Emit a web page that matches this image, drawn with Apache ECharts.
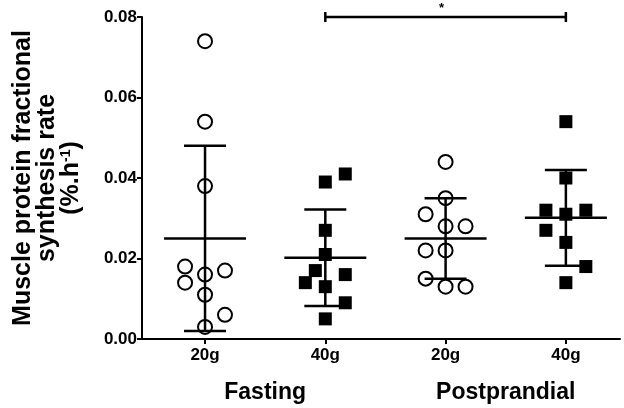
<!DOCTYPE html>
<html>
<head>
<meta charset="utf-8">
<script src="https://cdn.jsdelivr.net/npm/echarts@6/dist/echarts.min.js"></script>
<style>html,body{margin:0;padding:0;background:#fff}#c{width:624px;height:408px}</style>
</head>
<body>
<div id="c"></div>
<script>
// Categories / labels
var doseLabels = ['20g', '40g', '20g', '40g'];
var phaseLabels = ['Fasting', 'Postprandial'];
var yTicks = [0, 0.02, 0.04, 0.06, 0.08];

// Individual values [FSR, jitter column]
var fast20 = [[0.074,0],[0.054,0],[0.038,0],[0.018,-2],[0.017,2],[0.016,0],[0.014,-2],[0.011,0],[0.006,2],[0.003,0]];
var fast40 = [[0.039,0],[0.041,2],[0.027,0],[0.021,0],[0.017,-1],[0.014,-2],[0.016,2],[0.013,0],[0.009,2],[0.005,0]];
var post20 = [[0.044,0],[0.035,0],[0.031,-2],[0.028,0],[0.028,2],[0.022,-2],[0.022,0],[0.015,-2],[0.013,0],[0.013,2]];
var post40 = [[0.054,0],[0.040,0],[0.032,-2],[0.031,0],[0.032,2],[0.027,-2],[0.024,0],[0.018,2],[0.014,0]];

// Group means and SDs
var means = [0.025, 0.0202, 0.025, 0.0301];
var sds = [0.023, 0.012, 0.010, 0.0119];

// Significance comparison: from group, to group, level
var sig = [[1, 3, 0.08, '*']];

var JIT = 0.083;
function pts(arr, g) { return arr.map(function (d) { return [g + d[1] * JIT, d[0]]; }); }

var FONT = '"Liberation Sans", Arial, sans-serif';
var chart = echarts.init(document.getElementById('c'), null, { renderer: 'canvas' });

var errData = means.map(function (m, i) { return [i, m, sds[i]]; });

chart.setOption({
  animation: false,
  backgroundColor: '#fff',
  grid: { left: 142, right: 4, top: 17, bottom: 69 },
  xAxis: [{
    type: 'value', min: -0.524, max: 3.45,
    splitLine: { show: false },
    axisLine: { show: true, onZero: false, lineStyle: { color: '#000', width: 2 } },
    axisTick: { show: true, customValues: [0, 1, 2, 3], length: 5, lineStyle: { color: '#000', width: 2 } },
    axisLabel: {
      customValues: [0, 1, 2, 3], margin: 8,
      formatter: function (v) { return doseLabels[Math.round(v)]; },
      color: '#000', fontSize: 17, fontWeight: 'bold', fontFamily: FONT
    }
  }, {
    type: 'value', min: -0.524, max: 3.45, position: 'bottom', offset: 34,
    splitLine: { show: false }, axisLine: { show: false }, axisTick: { show: false },
    axisLabel: {
      customValues: [0.5, 2.5],
      formatter: function (v) { return phaseLabels[Math.round((v - 0.5) / 2)]; },
      color: '#000', fontSize: 23, fontWeight: 'bold', fontFamily: FONT
    }
  }],
  yAxis: {
    type: 'value', min: 0, max: 0.08, interval: 0.02,
    splitLine: { show: false },
    axisLine: { show: true, onZero: false, lineStyle: { color: '#000', width: 2 } },
    axisTick: { show: true, length: 5, lineStyle: { color: '#000', width: 2 } },
    axisLabel: {
      margin: 5, color: '#000', fontSize: 17, fontWeight: 'bold', fontFamily: FONT,
      formatter: function (v) { return v.toFixed(2); }
    },
    name: 'Muscle protein fractional\nsynthesis rate\n(%.h{sup|-1})',
    nameLocation: 'middle', nameRotate: 90, nameGap: 59,
    nameTextStyle: {
      color: '#000', fontSize: 25, fontWeight: 'bold', fontFamily: FONT, lineHeight: 24,
      rich: { sup: { fontSize: 14, fontWeight: 'bold', fontFamily: FONT, verticalAlign: 'top', lineHeight: 24 } }
    }
  },
  series: [
    {
      type: 'custom', z: 1, clip: false,
      data: errData,
      renderItem: function (params, api) {
        var x = api.value(0), m = api.value(1), s = api.value(2);
        var c = api.coord([x, m]), t = api.coord([x, m + s]), b = api.coord([x, m - s]);
        var st = { stroke: '#000', lineWidth: 2.5 };
        return { type: 'group', children: [
          { type: 'line', shape: { x1: c[0], y1: t[1], x2: c[0], y2: b[1] }, style: st },
          { type: 'line', shape: { x1: c[0] - 41, y1: c[1], x2: c[0] + 41, y2: c[1] }, style: st },
          { type: 'line', shape: { x1: c[0] - 21, y1: t[1], x2: c[0] + 21, y2: t[1] }, style: st },
          { type: 'line', shape: { x1: c[0] - 21, y1: b[1], x2: c[0] + 21, y2: b[1] }, style: st }
        ] };
      }
    },
    {
      type: 'custom', z: 1, clip: false,
      data: sig,
      renderItem: function (params, api) {
        var a = api.coord([api.value(0), api.value(2)]);
        var e = api.coord([api.value(1), api.value(2)]);
        var mid = api.coord([(api.value(0) + api.value(1)) / 2, api.value(2)]);
        var st = { stroke: '#000', lineWidth: 2.5 };
        return { type: 'group', children: [
          { type: 'line', shape: { x1: a[0], y1: a[1], x2: e[0], y2: e[1] }, style: st },
          { type: 'line', shape: { x1: a[0], y1: a[1] - 5, x2: a[0], y2: a[1] + 5 }, style: st },
          { type: 'line', shape: { x1: e[0], y1: e[1] - 5, x2: e[0], y2: e[1] + 5 }, style: st },
          { type: 'text', x: mid[0] - 4, y: mid[1] - 9, style: { text: sig[params.dataIndex][3], fill: '#000', font: 'bold 13px ' + FONT, align: 'center', verticalAlign: 'middle' } }
        ] };
      }
    },
    { type: 'scatter', z: 3, data: pts(fast20, 0), symbol: 'circle', symbolSize: 14,
      itemStyle: { color: 'rgba(0,0,0,0)', borderColor: '#000', borderWidth: 2, opacity: 1 } },
    { type: 'scatter', z: 3, data: pts(fast40, 1), symbol: 'rect', symbolSize: 13,
      itemStyle: { color: '#000', opacity: 1 } },
    { type: 'scatter', z: 3, data: pts(post20, 2), symbol: 'circle', symbolSize: 14,
      itemStyle: { color: 'rgba(0,0,0,0)', borderColor: '#000', borderWidth: 2, opacity: 1 } },
    { type: 'scatter', z: 3, data: pts(post40, 3), symbol: 'rect', symbolSize: 13,
      itemStyle: { color: '#000', opacity: 1 } }
  ]
});
</script>
</body>
</html>
